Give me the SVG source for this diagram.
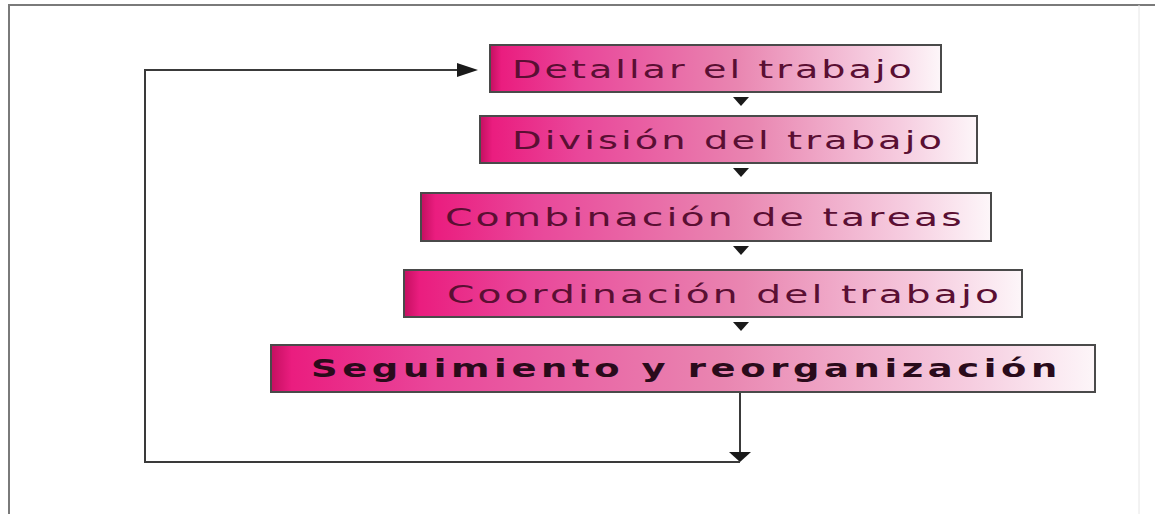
<svg xmlns="http://www.w3.org/2000/svg" width="1155" height="514" viewBox="0 0 1155 514">
  <defs>
    <linearGradient id="pink" x1="0" y1="0" x2="1" y2="0">
      <stop offset="0" stop-color="#c40f60"/>
      <stop offset="0.025" stop-color="#ea1d7f"/>
      <stop offset="0.2" stop-color="#e9479a"/>
      <stop offset="0.55" stop-color="#e986b1"/>
      <stop offset="0.85" stop-color="#f6cde0"/>
      <stop offset="1" stop-color="#fdf6f9"/>
    </linearGradient>
  </defs>
  <style>
    .box { fill: url(#pink); stroke: #4a4a4a; stroke-width: 2; }
    .lbl { font-family: "DejaVu Sans", Verdana, sans-serif; font-size: 25px; letter-spacing: 2px; fill: #5a0f33; }
    .bold { font-weight: bold; fill: #2a0b1b; font-size: 24px; letter-spacing: 3px; }
    .line { fill: none; stroke: #3a3a3a; stroke-width: 2; }
    .tri { fill: #1a1a1a; }
    .frame { fill: none; stroke: #7a7a7a; stroke-width: 2; }
  </style>
  <rect width="1155" height="514" fill="#ffffff"/>
  <g id="frame">
    <path class="frame" d="M9,514 L9,5 L1155,5"/>
    <line x1="1139" y1="5" x2="1139" y2="514" stroke="#e6e6e6" stroke-width="1"/>
  </g>
  <g id="connectors">
    <path class="tri" d="M733,97 L749,97 L741,106 z"/>
    <path class="tri" d="M733,168 L749,168 L741,177 z"/>
    <path class="tri" d="M733,246 L749,246 L741,255 z"/>
    <path class="tri" d="M733,322 L749,322 L741,331 z"/>
    <line class="line" x1="740" y1="392" x2="740" y2="454"/>
    <path class="tri" d="M729,452 L751,452 L740,462 z"/>
    <path class="line" d="M740,462 L145,462 L145,70 L462,70"/>
    <path class="line" d="M145,462 L145,70" stroke="#8a8a8a" stroke-width="3"/>
    <path class="tri" d="M457,63 L478,70 L457,77 z"/>
  </g>
  <g id="n1">
    <rect class="box" x="490" y="45" width="451" height="47"/>
    <text class="lbl" x="512" y="78" textLength="403" lengthAdjust="spacingAndGlyphs">Detallar el trabajo</text>
  </g>
  <g id="n2">
    <rect class="box" x="480" y="116" width="497" height="47"/>
    <text class="lbl" x="512" y="149" textLength="433" lengthAdjust="spacingAndGlyphs">División del trabajo</text>
  </g>
  <g id="n3">
    <rect class="box" x="421" y="193" width="570" height="48"/>
    <text class="lbl" x="445" y="226" textLength="520" lengthAdjust="spacingAndGlyphs">Combinación de tareas</text>
  </g>
  <g id="n4">
    <rect class="box" x="404" y="270" width="618" height="47"/>
    <text class="lbl" x="447" y="303" textLength="555" lengthAdjust="spacingAndGlyphs">Coordinación del trabajo</text>
  </g>
  <g id="n5">
    <rect class="box" x="271" y="345" width="824" height="47"/>
    <text class="lbl bold" x="311" y="377" textLength="751" lengthAdjust="spacingAndGlyphs">Seguimiento y reorganización</text>
  </g>
</svg>
